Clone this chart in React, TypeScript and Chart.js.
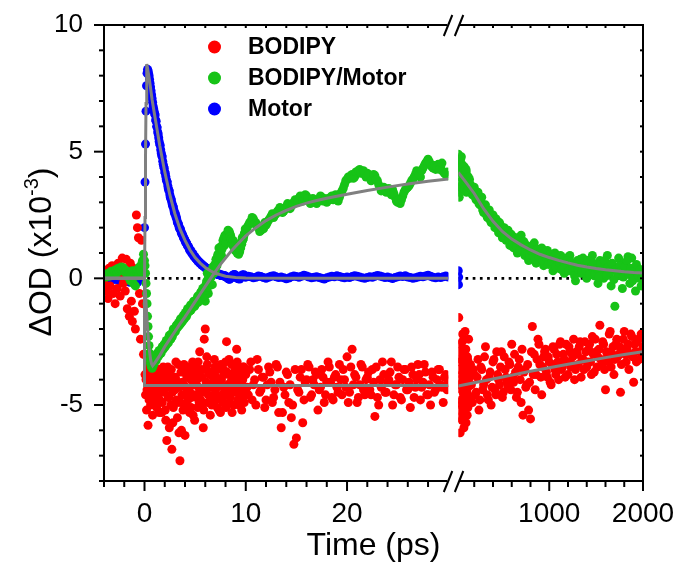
import React, { useEffect, useRef } from 'react';
import { Chart, registerables } from 'chart.js';

Chart.register(...registerables);

// ---------- tick definitions ----------
const yLabels = [-5, 0, 5, 10];
const yTicks = [-8, -7, -6, -5, -4, -3, -2, -1, 0, 1, 2, 3, 4, 5, 6, 7, 8, 9, 10];
const x1Labels = [0, 10, 20];
const x1Ticks = [-4, -2, 0, 2, 4, 6, 8, 10, 12, 14, 16, 18, 20, 22, 24, 26, 28];
const x2Labels = [1000, 2000];
const x2Ticks = [200, 400, 600, 800, 1000, 1200, 1400, 1600, 1800, 2000];
const BREAK_T = 30;

// ---------- delay times (ps) ----------
const tPre = [-4, -3.9, -3.8, -3.7, -3.6, -3.5, -3.4, -3.3, -3.2, -3.1,
  -3, -2.9, -2.8, -2.7, -2.6, -2.5, -2.4, -2.3, -2.2, -2.1,
  -2, -1.9, -1.8, -1.7, -1.6, -1.5, -1.4, -1.3, -1.2, -1.1,
  -1, -0.9, -0.8, -0.7, -0.6, -0.5, -0.4, -0.3, -0.2, -0.1];
const tRise = [0, 0.05, 0.1, 0.15, 0.2, 0.25, 0.3, 0.35, 0.4, 0.45,
  0.5, 0.55, 0.6, 0.65, 0.7, 0.75, 0.8, 0.85, 0.9, 0.95];
const tMid = [1, 1.1, 1.2, 1.3, 1.4, 1.5, 1.6, 1.7, 1.8, 1.9,
  2, 2.1, 2.2, 2.3, 2.4, 2.5, 2.6, 2.7, 2.8, 2.9,
  3, 3.1, 3.2, 3.3, 3.4, 3.5, 3.6, 3.7, 3.8, 3.9,
  4, 4.1, 4.2, 4.3, 4.4, 4.5, 4.6, 4.7, 4.8, 4.9,
  5, 5.1, 5.2, 5.3, 5.4, 5.5, 5.6, 5.7, 5.8, 5.9,
  6, 6.1, 6.2, 6.3, 6.4, 6.5, 6.6, 6.7, 6.8, 6.9,
  7, 7.1, 7.2, 7.3, 7.4, 7.5, 7.6, 7.7, 7.8, 7.9,
  8, 8.1, 8.2, 8.3, 8.4, 8.5, 8.6, 8.7, 8.8, 8.9,
  9, 9.1, 9.2, 9.3, 9.4, 9.5, 9.6, 9.7, 9.8, 9.9];
const tMid2 = [1.05, 1.15, 1.25, 1.35, 1.45, 1.55, 1.65, 1.75, 1.85, 1.95,
  2.05, 2.15, 2.25, 2.35, 2.45, 2.55, 2.65, 2.75, 2.85, 2.95,
  3.05, 3.15, 3.25, 3.35, 3.45, 3.55, 3.65, 3.75, 3.85, 3.95,
  4.05, 4.15, 4.25, 4.35, 4.45, 4.55, 4.65, 4.75, 4.85, 4.95,
  5.05, 5.15, 5.25, 5.35, 5.45, 5.55, 5.65, 5.75, 5.85, 5.95,
  6.05, 6.15, 6.25, 6.35, 6.45, 6.55, 6.65, 6.75, 6.85, 6.95,
  7.05, 7.15, 7.25, 7.35, 7.45, 7.55, 7.65, 7.75, 7.85, 7.95,
  8.05, 8.15, 8.25, 8.35, 8.45, 8.55, 8.65, 8.75, 8.85, 8.95,
  9.05, 9.15, 9.25, 9.35, 9.45, 9.55, 9.65, 9.75, 9.85, 9.95];
const tLate = [10, 10.25, 10.5, 10.75, 11, 11.25, 11.5, 11.75,
  12, 12.25, 12.5, 12.75, 13, 13.25, 13.5, 13.75,
  14, 14.25, 14.5, 14.75, 15, 15.25, 15.5, 15.75,
  16, 16.25, 16.5, 16.75, 17, 17.25, 17.5, 17.75,
  18, 18.25, 18.5, 18.75, 19, 19.25, 19.5, 19.75,
  20, 20.25, 20.5, 20.75, 21, 21.25, 21.5, 21.75,
  22, 22.25, 22.5, 22.75, 23, 23.25, 23.5, 23.75,
  24, 24.25, 24.5, 24.75, 25, 25.25, 25.5, 25.75,
  26, 26.25, 26.5, 26.75, 27, 27.25, 27.5, 27.75,
  28, 28.25, 28.5, 28.75, 29, 29.25, 29.5, 29.75, 30];
const tLate2 = [10.125, 10.375, 10.625, 10.875, 11.125, 11.375, 11.625, 11.875,
  12.125, 12.375, 12.625, 12.875, 13.125, 13.375, 13.625, 13.875,
  14.125, 14.375, 14.625, 14.875, 15.125, 15.375, 15.625, 15.875,
  16.125, 16.375, 16.625, 16.875, 17.125, 17.375, 17.625, 17.875,
  18.125, 18.375, 18.625, 18.875, 19.125, 19.375, 19.625, 19.875,
  20.125, 20.375, 20.625, 20.875, 21.125, 21.375, 21.625, 21.875,
  22.125, 22.375, 22.625, 22.875, 23.125, 23.375, 23.625, 23.875,
  24.125, 24.375, 24.625, 24.875, 25.125, 25.375, 25.625, 25.875,
  26.125, 26.375, 26.625, 26.875, 27.125, 27.375, 27.625, 27.875,
  28.125, 28.375, 28.625, 28.875, 29.125, 29.375, 29.625, 29.875];
const tR1 = [30, 35, 40, 45, 50, 55, 60, 65, 70, 75, 80, 85, 90, 95, 100,
  105, 110, 115, 120, 125, 130, 135, 140, 145, 150];
const tR1b = [32.5, 37.5, 42.5, 47.5, 52.5, 57.5, 62.5, 67.5, 72.5, 77.5, 82.5, 87.5,
  92.5, 97.5, 102.5, 107.5, 112.5, 117.5, 122.5, 127.5, 132.5, 137.5, 142.5, 147.5];
const tR2 = [160, 180, 200, 220, 240, 260, 280, 300, 320, 340,
  360, 380, 400, 420, 440, 460, 480, 500, 520, 540,
  560, 580, 600, 620, 640, 660, 680, 700, 720, 740,
  760, 780, 800, 820, 840, 860, 880, 900, 920, 940,
  960, 980, 1000, 1020, 1040, 1060, 1080, 1100, 1120, 1140,
  1160, 1180, 1200, 1220, 1240, 1260, 1280, 1300, 1320, 1340,
  1360, 1380, 1400, 1420, 1440, 1460, 1480, 1500, 1520, 1540,
  1560, 1580, 1600, 1620, 1640, 1660, 1680, 1700, 1720, 1740,
  1760, 1780, 1800, 1820, 1840, 1860, 1880, 1900, 1920, 1940,
  1960, 1980, 2000];
const tR3 = [170, 190, 210, 230, 250, 270, 290, 310, 330, 350,
  370, 390, 410, 430, 450, 470, 490, 510, 530, 550,
  570, 590, 610, 630, 650, 670, 690, 710, 730, 750,
  770, 790, 810, 830, 850, 870, 890, 910, 930, 950,
  970, 990, 1010, 1030, 1050, 1070, 1090, 1110, 1130, 1150,
  1170, 1190, 1210, 1230, 1250, 1270, 1290, 1310, 1330, 1350,
  1370, 1390, 1410, 1430, 1450, 1470, 1490, 1510, 1530, 1550,
  1570, 1590, 1610, 1630, 1650, 1670, 1690, 1710, 1730, 1750,
  1770, 1790, 1810, 1830, 1850, 1870, 1890, 1910, 1930, 1950,
  1970, 1990];
const tBlueR = [30, 32, 34];

// ---------- BODIPY (red) ----------
const redPre = [-0.2, 0.3, -0.5, 0.15, -0.8, 0.4, -0.3, 0.1, 0.5, -0.6,
  0.2, -1.0, 0.35, -0.4, 0.6, 0.1, -0.7, 0.45, 0.8, -0.2,
  0.3, -0.5, 0.75, -1.2, 0.2, -1.5, 0.6, -0.9, -1.7, 0.4,
  -1.3, -2.0, 2.5, 2.0, 1.6, -0.6, -2.4, 1.5, -1.0, -3.0];
const redRise = [-3.0, -3.8, -4.6, -4.0, -5.2, -4.4, -3.6, -5.8, -4.2, -4.8,
  -3.4, -4.5, -5.0, -3.9, -4.6, -4.1, -5.4, -3.7, -4.3, -4.9];
const redMid = [-4.6, -3.9, -5.1, -4.3, -3.6, -4.8, -4.1, -5.3, -3.8, -4.5,
  -4.0, -5.6, -6.4, -3.5, -4.7, -4.2, -5.0, -6.75, -5.7, -3.9,
  -4.4, -3.3, -4.9, -4.1, -6.1, -7.2, -3.7, -4.6, -5.2, -3.4,
  -6.2, -4.3, -3.9, -4.8, -3.6, -4.5, -5.1, -3.8, -5.4, -4.2,
  -3.5, -4.7, -4.0, -3.3, -4.9, -4.4, -3.6, -5.0, -5.9, -2.4,
  -2.0, -4.1, -3.4, -4.6, -3.8, -5.4, -4.3, -3.7, -4.8, -3.2,
  -4.5, -3.9, -5.1, -4.2, -3.5, -5.3, -4.0, -4.7, -3.6, -4.4,
  -3.3, -2.5, -4.6, -3.8, -4.9, -4.1, -3.4, -4.5, -5.0, -3.7,
  -4.2, -2.8, -4.8, -3.6, -4.4, -3.9, -5.2, -4.0, -3.5, -4.6];
const redMid2 = [-4.2, -5.0, -3.7, -4.6, -5.3, -3.9, -4.4, -4.9, -3.5, -4.1,
  -5.2, -4.3, -3.8, -4.7, -5.9, -4.0, -3.6, -4.5, -5.1, -4.2,
  -3.9, -4.8, -5.5, -3.4, -4.3, -4.9, -6.0, -4.1, -3.7, -4.6,
  -5.0, -3.8, -4.4, -3.5, -5.3, -4.0, -4.7, -3.3, -4.2, -5.6,
  -4.6, -3.8, -5.1, -4.3, -2.9, -4.8, -3.9, -4.5, -5.2, -3.6,
  -4.4, -3.1, -4.9, -4.2, -3.7, -4.7, -5.0, -3.9, -4.1, -3.5,
  -4.8, -4.3, -3.6, -5.2, -4.0, -3.4, -4.6, -4.9, -3.8, -4.3,
  -5.1, -3.7, -4.2, -3.2, -4.7, -4.4, -5.3, -3.9, -4.1, -3.6,
  -4.5, -3.3, -4.0, -5.0, -3.8, -4.6, -4.2, -3.5, -4.9, -4.3];
const redLate = [-3.8, -4.6, -3.3, -4.2, -5.0, -3.6, -4.4, -3.9,
  -4.8, -3.5, -4.1, -4.7, -3.4, -5.3, -5.9, -4.3,
  -3.7, -4.9, -5.5, -6.55, -6.3, -4.5, -3.6, -4.8,
  -4.0, -3.5, -4.6, -4.2, -3.8, -4.4, -3.6, -4.9,
  -4.1, -3.5, -4.7, -3.9, -4.3, -3.4, -4.6, -4.0,
  -3.1, -4.5, -2.8, -3.8, -4.9, -4.2, -3.5, -4.6,
  -3.9, -4.4, -3.6, -5.45, -4.7, -4.0, -3.3, -4.5,
  -4.1, -3.7, -5.0, -4.2, -3.5, -4.7, -4.0, -3.6,
  -4.4, -5.1, -3.8, -4.3, -3.4, -4.8, -4.1, -3.7,
  -4.6, -5.0, -3.9, -4.4, -3.6, -4.2, -4.9, -3.8, -4.1];
const redLate2 = [-4.3, -3.6, -4.8, -4.0, -3.2, -4.5, -3.9, -5.1,
  -4.2, -3.7, -4.9, -4.4, -3.5, -4.1, -5.3, -4.6,
  -3.8, -4.2, -5.0, -3.6, -4.4, -3.9, -5.7, -4.1,
  -3.4, -4.7, -4.0, -3.7, -5.2, -4.3, -3.9, -4.6,
  -3.3, -4.1, -4.8, -3.8, -4.5, -4.0, -3.6, -4.3,
  -4.9, -3.5, -4.2, -3.9, -4.7, -3.4, -4.4, -4.0,
  -3.7, -4.6, -4.1, -3.5, -5.0, -4.3, -3.8, -4.5,
  -4.0, -3.3, -4.6, -4.2, -3.9, -4.8, -3.6, -4.4,
  -4.1, -3.5, -4.7, -4.0, -3.8, -4.3, -3.4, -4.6,
  -4.2, -3.7, -4.5, -4.0, -3.6, -4.3, -3.9, -4.4];
const redR1 = [-4.2, -1.55, -5.2, -3.3, -6.1, -2.6, -4.8, -3.8, -5.6, -2.2,
  -4.5, -3.5, -5.9, -3.0, -4.0, -5.0, -2.8, -4.6, -3.6, -5.4,
  -3.2, -4.3, -2.4, -4.9, -3.9];
const redR1b = [-3.6, -4.9, -2.9, -5.5, -4.1, -3.2, -5.0, -4.4, -2.5, -3.9, -5.3, -4.6,
  -3.4, -4.8, -2.1, -4.2, -5.7, -3.7, -4.5, -3.1, -5.1, -4.0, -3.5, -4.7];
const redR2 = [-3.4, -4.9, -3.8, -4.5, -3.2, -4.8, -3.6, -4.2, -2.7, -4.6,
  -3.9, -5.0, -3.3, -4.4, -2.9, -4.0, -3.5, -4.7, -3.1, -3.9,
  -4.3, -3.4, -2.6, -4.1, -3.7, -4.5, -3.2, -4.9, -5.4, -3.6,
  -4.2, -5.2, -5.55, -1.9, -3.0, -3.8, -2.4, -3.4, -4.6, -3.1,
  -2.8, -3.9, -3.3, -4.2, -2.7, -3.6, -3.0, -4.0, -2.5, -3.5,
  -3.2, -2.6, -3.8, -2.9, -3.4, -2.4, -3.6, -3.0, -2.7, -3.9,
  -3.2, -2.5, -3.5, -2.8, -3.3, -2.3, -3.7, -2.9, -3.1, -1.85,
  -3.4, -2.6, -4.4, -3.0, -2.2, -3.5, -2.7, -3.2, -2.4, -3.0,
  -4.5, -2.8, -2.1, -3.3, -2.6, -3.0, -2.3, -4.1, -2.9, -2.5,
  -3.2, -2.2, -2.7];
const redR3 = [-4.2, -3.6, -4.6, -3.9, -5.2, -3.5, -4.4, -3.1, -4.0, -4.8,
  -3.7, -4.3, -3.2, -4.6, -3.8, -4.2, -2.9, -4.5, -3.6, -4.1,
  -3.3, -4.4, -3.9, -3.0, -4.7, -3.5, -4.0, -2.8, -3.7, -4.3,
  -3.4, -4.1, -2.9, -3.8, -4.4, -3.2, -2.6, -3.9, -3.5, -2.9,
  -3.7, -3.1, -4.1, -3.4, -2.8, -3.8, -3.3, -2.6, -3.6, -3.0,
  -3.9, -3.3, -2.7, -3.5, -3.1, -4.0, -2.9, -3.4, -2.5, -3.2,
  -3.6, -2.9, -3.3, -2.6, -3.8, -3.0, -2.4, -3.5, -2.8, -3.2,
  -2.5, -3.6, -2.9, -3.3, -2.1, -3.0, -3.8, -2.6, -3.1, -2.7,
  -3.4, -2.4, -3.0, -2.8, -3.6, -2.2, -3.1, -2.6, -3.3, -2.4,
  -2.9, -2.3];

// ---------- BODIPY/Motor (green) ----------
const greenPre = [0.1, 0.15, 0.05, 0.12, 0.2, 0.08, 0.18, 0.28, 0.2, 0.15,
  0.3, 0.25, 0.35, 0.22, 0.4, 0.32, 0.38, 0.45, 0.3, 0.42,
  0.35, 0.25, 0.3, 0.15, 0.05, 0.2, -0.1, 0.15, 0.3, -0.2,
  0.1, -0.3, 0.25, 0.35, 0.1, 0.45, 0.3, 0.55, 0.7, 0.95];
const greenRise = [0.7, 0.5, 0.2, -0.2, -0.6, -1.0, -1.5, -1.9, -2.3, -2.65,
  -2.95, -3.2, -3.35, -3.45, -3.5, -3.55, -3.5, -3.45, -3.4, -3.35];
const greenMid = [-3.3, -3.2, -3.1, -3.05, -2.95, -3.0, -2.85, -2.8, -2.7, -2.75,
  -2.6, -2.55, -2.6, -2.45, -2.35, -2.3, -2.4, -2.2, -2.1, -2.15,
  -2.0, -1.95, -1.85, -1.9, -1.75, -1.7, -1.78, -1.6, -1.55, -1.48,
  -1.5, -1.4, -1.3, -1.35, -1.2, -1.15, -1.25, -1.05, -1.0, -0.95,
  -1.05, -0.85, -0.8, -0.95, -0.7, -0.75, -0.55, -0.5, -0.65, -0.35,
  -0.9, -0.2, 0.2, -0.6, 0.1, 0.0, 0.3, -0.25, 0.35, 0.5,
  0.3, 0.6, 0.85, 0.7, 1.0, 1.1, 0.9, 1.3, 1.45, 1.3,
  1.55, 1.5, 1.75, 1.6, 1.8, 1.7, 1.5, 1.4, 1.25, 1.2,
  1.15, 1.3, 1.1, 0.95, 1.05, 1.2, 1.35, 1.5, 1.65, 1.8];
const greenMid2 = [-3.15, -3.25, -2.95, -3.1, -2.85, -2.9, -2.95, -2.7, -2.8, -2.6,
  -2.7, -2.45, -2.5, -2.55, -2.25, -2.4, -2.2, -2.3, -2.0, -2.05,
  -2.1, -1.85, -1.95, -1.75, -1.85, -1.6, -1.65, -1.7, -1.45, -1.6,
  -1.35, -1.5, -1.2, -1.25, -1.3, -1.05, -1.1, -1.15, -0.9, -1.1,
  -0.9, -0.95, -0.7, -0.75, -0.85, -0.55, -0.6, -0.4, -0.5, -0.7,
  -0.45, -0.1, -0.35, 0.05, -0.15, 0.25, 0.15, 0.45, 0.2, 0.55,
  0.75, 0.5, 0.95, 1.2, 0.8, 1.25, 1.15, 1.5, 1.6, 1.7,
  1.4, 1.65, 1.9, 1.85, 1.65, 1.55, 1.35, 1.5, 1.3, 1.1,
  1.25, 1.0, 1.2, 1.15, 1.3, 1.45, 1.6, 1.55, 1.75, 1.95];
const greenLate = [1.9, 2.1, 2.25, 2.35, 2.2, 2.0, 1.9, 1.95,
  2.1, 2.3, 2.45, 2.4, 2.55, 2.7, 2.75, 2.65,
  2.8, 2.9, 2.85, 3.0, 3.05, 3.15, 3.1, 3.2,
  3.25, 3.1, 3.0, 3.05, 2.95, 3.1, 3.2, 3.15,
  3.0, 3.1, 3.25, 3.2, 3.1, 3.2, 3.45, 3.7,
  3.9, 3.95, 4.1, 4.0, 4.15, 4.3, 4.2, 4.1,
  4.15, 4.0, 3.95, 4.05, 3.85, 3.6, 3.5, 3.55,
  3.45, 3.4, 3.5, 3.2, 3.0, 2.95, 3.25, 3.5,
  3.6, 3.75, 3.9, 4.1, 4.2, 4.0, 4.35, 4.55,
  4.7, 4.5, 4.35, 4.3, 4.5, 4.4, 4.2, 4.1, 4.05];
const greenLate2 = [2.0, 2.2, 2.4, 2.15, 2.1, 1.85, 2.05, 2.2,
  2.2, 2.35, 2.55, 2.5, 2.65, 2.8, 2.6, 2.75,
  2.95, 2.75, 2.95, 3.1, 3.0, 3.25, 3.05, 3.3,
  3.15, 2.95, 3.15, 3.0, 3.05, 3.25, 3.05, 3.1,
  3.15, 3.2, 3.1, 3.3, 3.05, 3.35, 3.55, 3.85,
  4.0, 4.05, 3.95, 4.2, 4.25, 4.15, 4.25, 4.0,
  4.1, 3.85, 4.1, 3.9, 3.7, 3.45, 3.6, 3.4,
  3.55, 3.3, 3.35, 3.05, 3.1, 3.1, 3.4, 3.55,
  3.65, 3.85, 4.0, 4.25, 4.1, 4.25, 4.45, 4.6,
  4.6, 4.4, 4.45, 4.4, 4.3, 4.55, 4.15, 4.2];
const greenR1 = [4.9, 4.6, 3.2, 4.4, 3.8, 4.7, 3.5, 4.2, 4.5, 3.9,
  4.3, 3.7, 4.1, 4.4, 3.8, 4.0, 3.6, 4.2, 3.9, 3.7,
  4.0, 3.5, 3.8, 3.6, 3.9];
const greenR1b = [4.7, 3.4, 4.5, 4.0, 3.6, 4.3, 4.8, 3.7, 4.1, 4.4, 3.6, 3.9,
  4.2, 3.5, 4.0, 3.8, 4.3, 3.4, 3.9, 3.7, 3.5, 4.0, 3.6, 3.7];
const greenR2 = [3.7, 3.3, 3.6, 3.1, 3.4, 2.9, 3.2, 2.6, 2.9, 2.4,
  2.7, 2.2, 2.5, 2.0, 2.3, 1.8, 2.1, 1.6, 2.0, 1.5,
  1.9, 1.3, 1.7, 1.2, 1.6, 1.0, 1.4, 1.7, 1.1, 0.9,
  1.3, 0.7, 1.2, 0.9, 1.4, 0.6, 1.0, 0.8, 1.2, 0.5,
  0.9, 1.1, 0.6, 0.8, 0.3, 1.0, 0.7, 0.4, 0.9, 0.6,
  0.2, 0.8, 0.5, 0.9, 0.3, 0.6, -0.1, 0.7, 0.4, 0.2,
  0.8, 0.5, 0.0, 0.6, 0.3, 0.9, 0.1, 0.5, -0.2, 0.7,
  0.3, 0.0, 0.6, 0.9, 0.2, -0.3, 0.5, -1.1, 0.4, 0.8,
  0.1, -0.4, 0.6, 0.3, 0.85, -0.2, 0.8, 0.2, -0.5, 0.4,
  0.0, -0.3, 0.3];
const greenR3 = [3.5, 3.45, 3.2, 3.35, 2.95, 3.05, 2.7, 2.85, 2.5, 2.65,
  2.3, 2.5, 2.15, 2.35, 1.95, 2.2, 1.8, 1.95, 1.7, 1.85,
  1.55, 1.75, 1.4, 1.6, 1.25, 1.5, 1.15, 1.35, 1.45, 1.05,
  1.2, 0.95, 1.1, 1.3, 0.75, 1.15, 0.85, 1.05, 0.7, 1.0,
  0.8, 0.55, 0.95, 0.65, 0.85, 0.45, 0.75, 0.6, 0.35, 0.8,
  0.55, 0.7, 0.3, 0.65, 0.45, 0.1, 0.55, 0.35, 0.75, 0.25,
  0.5, 0.3, 0.7, 0.15, 0.45, 0.6, 0.2, 0.4, 0.05, 0.55,
  0.35, 0.7, 0.1, 0.45, 0.25, 0.6, -0.05, 0.35, 0.2, 0.5,
  0.3, 0.05, 0.45, 0.7, 0.15, 0.4, -0.1, 0.3, 0.55, 0.1,
  0.35, 0.05];

// ---------- Motor (blue) ----------
const bluePre = [0.05, 0, -0.08, 0.03, 0.1, 0.06, 0.02, -0.1, -0.04, 0.06,
  0.12, 0.05, -0.05, -0.02, 0.03, 0.08, -0.12, -0.06, 0.08, 0.02,
  0, -0.06, 0.04, 0.1, 0.06, -0.15, -0.05, 0.05, 0.12, -0.1,
  0.02, -0.08, 0.06, -0.17, 0.03, 0.1, -0.05, 0.08, 0.2, 0.6];
const blueRise = [2.0, 3.8, 5.3, 6.6, 7.6, 8.1, 8.25, 8.2, 8.1, 8.0,
  7.85, 7.7, 7.55, 7.4, 7.25, 7.1, 6.95, 6.8, 6.7, 6.6];
const blueMid = [6.5, 6.25, 6.0, 5.78, 5.55, 5.3, 5.08, 4.85, 4.62, 4.4,
  4.2, 4.02, 3.83, 3.65, 3.47, 3.3, 3.14, 2.99, 2.84, 2.7,
  2.55, 2.43, 2.31, 2.18, 2.06, 1.95, 1.86, 1.76, 1.67, 1.58,
  1.5, 1.42, 1.34, 1.27, 1.19, 1.12, 1.06, 1.0, 0.94, 0.88,
  0.82, 0.78, 0.73, 0.69, 0.64, 0.6, 0.57, 0.53, 0.5, 0.46,
  0.43, 0.4, 0.38, 0.35, 0.33, 0.3, 0.28, 0.26, 0.24, 0.22,
  0.2, 0.18, 0.17, 0.15, 0.14, 0.13, 0.12, 0.11, 0.1, 0.09,
  0.08, 0.05, 0.02, -0.02, -0.04, 0, 0.04, 0.09, 0.12, 0.15,
  0.1, 0.06, 0.03, 0, -0.03, 0.02, 0.07, 0.12, 0.14, 0.1];
const blueMid2 = [6.45, 6.2, 5.95, 5.7, 5.4, 5.25, 4.95, 4.8, 4.5, 4.35,
  4.15, 3.9, 3.8, 3.55, 3.45, 3.2, 3.1, 2.9, 2.82, 2.6,
  2.55, 2.4, 2.2, 2.15, 1.98, 1.95, 1.78, 1.72, 1.6, 1.55,
  1.42, 1.4, 1.28, 1.25, 1.12, 1.1, 1.0, 0.98, 0.88, 0.86,
  0.78, 0.76, 0.68, 0.67, 0.6, 0.6, 0.52, 0.52, 0.46, 0.45,
  0.4, 0.4, 0.35, 0.35, 0.3, 0.3, 0.26, 0.26, 0.22, 0.22,
  0.18, 0.19, 0.15, 0.17, 0.13, 0.14, 0.11, 0.12, 0.09, 0.1,
  0.06, 0.03, -0.01, -0.03, 0.02, 0.05, 0.08, 0.13, 0.14, 0.08,
  0.05, 0.01, -0.02, 0.02, 0.04, 0.09, 0.13, 0.12, 0.08, 0.05];
const blueLate = [0.05, 0.08, 0.06, 0.02, 0.04, 0.09, 0.07, 0.03, 0.0, 0.04,
  0.08, 0.1, 0.06, 0.03, 0.05, 0.02, -0.02, 0.01, 0.06, 0.09,
  0.07, 0.04, 0.08, 0.12, 0.09, 0.05, 0.02, 0.04, 0.06, 0.03,
  0.0, -0.03, 0.02, 0.05, 0.08, 0.06, 0.1, 0.07, 0.04, 0.02,
  0.05, 0.03, 0.07, 0.1, 0.08, 0.05, 0.02, 0.0, 0.03, 0.06,
  0.04, 0.08, 0.11, 0.09, 0.06, 0.03, 0.05, 0.02, -0.01, 0.03,
  0.06, 0.09, 0.07, 0.1, 0.05, 0.03, 0.0, 0.02, 0.05, 0.08,
  0.06, 0.09, 0.12, 0.08, 0.04, 0.02, 0.05, 0.03, 0.06, 0.09,
  0.05];
const blueR = [0.3, -0.25, 0.05];

// ---------- fitted curves ----------
const fitRedLT = [-4, 0, 0, 30];
const fitRedLV = [0, 0, -4.23, -4.23];
const fitRedRT = [30, 200, 400, 600, 800, 1000, 1200, 1400, 1600, 1800, 2000];
const fitRedRV = [-4.25, -4.12, -3.97, -3.82, -3.67, -3.53, -3.39, -3.26, -3.13, -3.01, -2.9];
const fitGreenLT = [-4, 0, 0.1, 0.2, 0.3, 0.4, 0.5, 0.6, 0.7, 0.8,
  1, 1.5, 2, 2.5, 3, 3.5, 4, 4.5, 5, 5.5, 6, 6.5, 7, 7.5, 8, 8.5, 9,
  10, 11, 12, 13, 14, 15, 16, 17, 18, 19, 20, 22, 24, 26, 28, 30];
const fitGreenLV = [0, 0, -0.6, -1.3, -1.95, -2.5, -2.9, -3.2, -3.38, -3.45,
  -3.35, -3.05, -2.7, -2.4, -2.1, -1.8, -1.52, -1.22, -0.92, -0.62, -0.32, -0.02, 0.27, 0.55, 0.8, 1.05, 1.27,
  1.68, 2.0, 2.28, 2.5, 2.68, 2.84, 2.97, 3.07, 3.16, 3.24, 3.32, 3.47, 3.6, 3.72, 3.83, 3.92];
const fitGreenRT = [30, 100, 200, 300, 400, 500, 600, 700, 800, 900, 1000,
  1100, 1200, 1300, 1400, 1500, 1600, 1700, 1800, 1900, 2000];
const fitGreenRV = [4.18, 3.85, 3.35, 2.75, 2.25, 1.85, 1.55, 1.32, 1.12, 0.95, 0.82,
  0.71, 0.61, 0.52, 0.45, 0.39, 0.34, 0.3, 0.26, 0.23, 0.21];
const fitBlueLT = [-4, 0, 0.05, 0.1, 0.15, 0.22, 0.3, 0.4, 0.5, 0.75, 1, 1.5, 2, 2.5, 3,
  3.5, 4, 4.5, 5, 5.5, 6, 6.5, 7, 8, 9, 10, 15, 30];
const fitBlueLV = [0, 0, 2.4, 4.8, 6.9, 8.46, 8.3, 8.05, 7.8, 7.05, 6.45, 5.25, 4.2, 3.3, 2.55,
  1.95, 1.5, 1.12, 0.82, 0.6, 0.43, 0.3, 0.2, 0.08, 0.03, 0.01, 0, 0];
const zeroLT = [-4, 30];
const zeroRT = [30, 2000];
const zeroV = [0, 0];

const legendLabels = ['BODIPY', 'BODIPY/Motor', 'Motor'];
const FONT = "'Liberation Sans', Arial, Helvetica, sans-serif";
const RED = '#ff0000';
const GREEN = '#17c317';
const BLUE = '#0000ff';
const FIT = '#808080';
const legendColors = [RED, GREEN, BLUE];

function pts(ts: number[], vs: number[]) {
  const n = Math.min(ts.length, vs.length);
  const out: { x: number; y: number }[] = [];
  for (let i = 0; i < n; i++) out.push({ x: ts[i], y: vs[i] });
  return out;
}

const segClip = {
  id: 'segClip',
  beforeDatasetDraw(chart: any, args: any) {
    const xs = args.meta.xScale;
    const ca = chart.chartArea;
    let lo: number, hi: number;
    if (xs.id === 'x1') {
      lo = ca.left;
      hi = xs.getPixelForValue(BREAK_T);
    } else {
      lo = xs.getPixelForValue(BREAK_T);
      hi = ca.right;
    }
    const ctx = chart.ctx;
    ctx.save();
    ctx.beginPath();
    ctx.rect(lo, ca.top, hi - lo, ca.bottom - ca.top);
    ctx.clip();
  },
  afterDatasetDraw(chart: any) {
    chart.ctx.restore();
  },
};

const frame = {
  id: 'frame',
  afterDraw(chart: any) {
    const ctx = chart.ctx;
    const ca = chart.chartArea;
    const x1 = chart.scales.x1;
    const x2 = chart.scales.x2;
    const ys = chart.scales.y;
    const J = x1.right;
    const gl = J - 6;
    const gr = J + 6;
    ctx.save();
    ctx.strokeStyle = '#000';
    ctx.lineWidth = 2;
    ctx.lineCap = 'butt';
    const seg = (a: number, b: number, c: number, d: number) => {
      ctx.beginPath();
      ctx.moveTo(a, b);
      ctx.lineTo(c, d);
      ctx.stroke();
    };
    seg(ca.left, ca.top - 1, ca.left, ca.bottom + 1);
    seg(ca.right, ca.top - 1, ca.right, ca.bottom + 1);
    for (const yy of [ca.top, ca.bottom]) {
      seg(ca.left - 1, yy, gl, yy);
      seg(gr, yy, ca.right + 1, yy);
    }
    for (const v of yTicks) {
      const p = ys.getPixelForValue(v);
      const len = yLabels.includes(v) ? 10 : 5;
      seg(ca.left - len, p, ca.left, p);
      seg(ca.right - 3, p, ca.right, p);
    }
    const xt = (s: any, vals: number[], majors: number[]) => {
      for (const v of vals) {
        const p = s.getPixelForValue(v);
        const len = majors.includes(v) ? 10 : 6;
        seg(p, ca.bottom, p, ca.bottom + len);
        seg(p, ca.top, p, ca.top + 3);
      }
    };
    xt(x1, x1Ticks, x1Labels);
    xt(x2, x2Ticks, x2Labels);
    for (const yy of [ca.top, ca.bottom]) {
      seg(J - 9.5, yy + 11, J - 1, yy - 10);
      seg(J + 1.5, yy + 11, J + 10, yy - 10);
    }
    // axis titles
    ctx.fillStyle = '#000';
    ctx.font = `32px ${FONT}`;
    ctx.textAlign = 'center';
    ctx.textBaseline = 'alphabetic';
    ctx.fillText('Time (ps)', (ca.left + ca.right) / 2, 555);

    ctx.save();
    ctx.translate(51, (ca.top + ca.bottom) / 2 - 1);
    ctx.rotate(-Math.PI / 2);
    ctx.textAlign = 'left';
    const m1 = 'ΔOD (x10';
    const sup = '-3';
    const m3 = ')';
    ctx.font = `32px ${FONT}`;
    const w1 = ctx.measureText(m1).width;
    const w3 = ctx.measureText(m3).width;
    ctx.font = `20px ${FONT}`;
    const w2 = ctx.measureText(sup).width;
    let sx = -(w1 + w2 + w3) / 2;
    ctx.font = `32px ${FONT}`;
    ctx.fillText(m1, sx, 0);
    sx += w1;
    ctx.font = `20px ${FONT}`;
    ctx.fillText(sup, sx, -13);
    sx += w2;
    ctx.font = `32px ${FONT}`;
    ctx.fillText(m3, sx, 0);
    ctx.restore();

    // legend
    ctx.font = `bold 23px ${FONT}`;
    ctx.textAlign = 'left';
    ctx.textBaseline = 'middle';
    legendLabels.forEach((lab, i) => {
      const cy = 47 + i * 31;
      ctx.fillStyle = legendColors[i];
      ctx.beginPath();
      ctx.arc(214.5, cy, 6.5, 0, Math.PI * 2);
      ctx.fill();
      ctx.fillStyle = '#000';
      ctx.fillText(lab, 248, cy + 1);
    });
    ctx.restore();
  },
};

function pointDs(label: string, data: any[], color: string, axis: string, order: number) {
  return {
    label,
    data,
    xAxisID: axis,
    yAxisID: 'y',
    backgroundColor: color,
    borderColor: color,
    pointRadius: 4.5,
    pointBorderWidth: 0,
    pointHoverRadius: 0,
    showLine: false,
    order,
  };
}

function lineDs(label: string, data: any[], axis: string, color: string, width: number, order: number, dash?: number[]) {
  return {
    label,
    data,
    xAxisID: axis,
    yAxisID: 'y',
    borderColor: color,
    backgroundColor: color,
    borderWidth: width,
    borderDash: dash || [],
    borderCapStyle: 'butt',
    pointRadius: 0,
    pointHoverRadius: 0,
    showLine: true,
    fill: false,
    tension: 0,
    order,
  };
}

export default function App() {
  const ref = useRef<HTMLCanvasElement | null>(null);
  useEffect(() => {
    if (!ref.current) return;
    const redL = [...pts(tPre, redPre), ...pts(tRise, redRise), ...pts(tMid, redMid), ...pts(tMid2, redMid2),
      ...pts(tLate, redLate), ...pts(tLate2, redLate2)];
    const greenL = [...pts(tPre, greenPre), ...pts(tRise, greenRise), ...pts(tMid, greenMid), ...pts(tMid2, greenMid2),
      ...pts(tLate, greenLate), ...pts(tLate2, greenLate2)];
    const blueL = [...pts(tPre, bluePre), ...pts(tRise, blueRise), ...pts(tMid, blueMid), ...pts(tMid2, blueMid2),
      ...pts(tLate, blueLate)];
    const redRt = [...pts(tR1, redR1), ...pts(tR1b, redR1b), ...pts(tR2, redR2), ...pts(tR3, redR3)];
    const greenRt = [...pts(tR1, greenR1), ...pts(tR1b, greenR1b), ...pts(tR2, greenR2), ...pts(tR3, greenR3)];
    const blueRt = pts(tBlueR, blueR);

    const tickFont = (size: number) => ({ family: FONT, size });
    const chart = new Chart(ref.current, {
      type: 'scatter',
      data: {
        datasets: [
          lineDs('zeroL', pts(zeroLT, zeroV), 'x1', '#000', 2.7, 6, [2.7, 4.5]),
          lineDs('zeroR', pts(zeroRT, zeroV), 'x2', '#000', 2.7, 6, [2.7, 4.5]),
          pointDs('Motor', blueL, BLUE, 'x1', 5),
          pointDs('Motor', blueRt, BLUE, 'x2', 5),
          pointDs('BODIPY', redL, RED, 'x1', 4),
          pointDs('BODIPY', redRt, RED, 'x2', 4),
          pointDs('BODIPY/Motor', greenL, GREEN, 'x1', 3),
          pointDs('BODIPY/Motor', greenRt, GREEN, 'x2', 3),
          lineDs('fitBlue', pts(fitBlueLT, fitBlueLV), 'x1', FIT, 3, 0),
          lineDs('fitRedL', pts(fitRedLT, fitRedLV), 'x1', FIT, 3, 0),
          lineDs('fitRedR', pts(fitRedRT, fitRedRV), 'x2', FIT, 3, 0),
          lineDs('fitGreenL', pts(fitGreenLT, fitGreenLV), 'x1', FIT, 3, 0),
          lineDs('fitGreenR', pts(fitGreenRT, fitGreenRV), 'x2', FIT, 3, 0),
        ] as any,
      },
      options: {
        animation: false,
        responsive: false,
        devicePixelRatio: 1,
        events: [],
        layout: { padding: { left: 0, right: 35, top: 25, bottom: 0 } },
        plugins: { legend: { display: false }, tooltip: { enabled: false } },
        scales: {
          x1: {
            type: 'linear',
            position: 'bottom',
            stack: 'x',
            stackWeight: 349.3,
            min: -4,
            max: 30.494,
            grid: { display: false, drawTicks: false },
            border: { display: false },
            ticks: {
              font: tickFont(28),
              color: '#000',
              padding: 16,
              autoSkip: false,
              maxRotation: 0,
              minRotation: 0,
              callback: (v: any) => String(v),
            },
            afterBuildTicks: (s: any) => {
              s.ticks = x1Labels.map((v) => ({ value: v }));
            },
            afterFit: (s: any) => {
              s.height = 83;
              s.paddingLeft = 0;
              s.paddingRight = 0;
            },
          },
          x2: {
            type: 'linear',
            position: 'bottom',
            stack: 'x',
            stackWeight: 189.7,
            min: -23.3,
            max: 2000,
            grid: { display: false, drawTicks: false },
            border: { display: false },
            ticks: {
              font: tickFont(28),
              color: '#000',
              padding: 16,
              autoSkip: false,
              maxRotation: 0,
              minRotation: 0,
              callback: (v: any) => String(v),
            },
            afterBuildTicks: (s: any) => {
              s.ticks = x2Labels.map((v) => ({ value: v }));
            },
            afterFit: (s: any) => {
              s.height = 83;
              s.paddingLeft = 0;
              s.paddingRight = 0;
            },
          },
          y: {
            type: 'linear',
            position: 'left',
            min: -8,
            max: 10,
            grid: { display: false, drawTicks: false },
            border: { display: false },
            ticks: {
              font: tickFont(26),
              color: '#000',
              padding: 21,
              autoSkip: false,
              callback: (v: any) => String(v),
            },
            afterBuildTicks: (s: any) => {
              s.ticks = yLabels.map((v) => ({ value: v }));
            },
            afterFit: (s: any) => {
              s.width = 104;
              s.paddingTop = 0;
              s.paddingBottom = 0;
            },
          },
        },
      } as any,
      plugins: [segClip, frame],
    });
    return () => chart.destroy();
  }, []);

  return (
    <div style={{ position: 'absolute', left: 0, top: 0, width: 678, height: 564, background: '#fff' }}>
      <canvas ref={ref} width={678} height={564} style={{ display: 'block' }} />
    </div>
  );
}
